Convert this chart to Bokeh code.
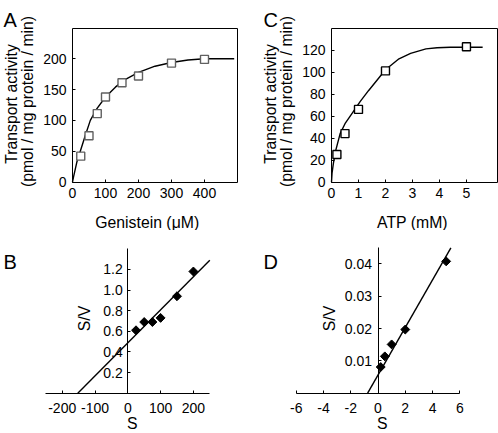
import numpy as np
from bokeh.plotting import figure
from bokeh.layouts import row, column
from bokeh.models import FixedTicker, Label, Range1d, LinearAxis
from bokeh.embed import file_html
from bokeh.resources import INLINE

FONT = "Liberation Sans"
TITLE_SIZE = "15.8px"

# ---------------- data ----------------
# Panel A: transport activity vs genistein (uM)
genistein = [25, 50, 75, 100, 150, 200, 300, 400]
genistein_activity = [42, 75, 111, 138, 161, 172, 193, 199]
genistein_curve_x = [0, 3, 13, 26, 39, 54, 74, 100, 130, 155, 200, 250, 300, 350, 400, 450, 490]
genistein_curve_y = [0, 8, 32, 54, 76, 100, 119, 138, 154, 165, 178, 188, 194, 198, 200, 200, 200]

# Panel C: transport activity vs ATP (mM)
atp = [0.2, 0.5, 1, 2, 5]
atp_activity = [25, 44, 66, 101, 123]
atp_curve_x = [0, 0.02, 0.07, 0.16, 0.32, 0.5, 0.75, 1.06, 1.37, 1.7, 2.0, 2.5, 2.93, 3.5, 3.91, 4.4, 5.0, 5.6]
atp_curve_y = [0, 8, 17, 29, 44, 53, 62, 73, 83, 93, 102, 112, 117, 121, 122, 122.5, 122.5, 122.5]

# Panel B: Hanes-Woolf plot, genistein
b_s = [25, 50, 75, 100, 150, 200]
b_sv = [0.61, 0.69, 0.69, 0.73, 0.94, 1.18]
b_fit_slope = 0.0032
b_fit_intercept = 0.488

# Panel D: Hanes-Woolf plot, ATP
d_s = [0.2, 0.5, 1, 2, 5]
d_sv = [0.0081, 0.0114, 0.0151, 0.0197, 0.0408]
d_fit_slope = 0.00737
d_fit_intercept = 0.0056

# axis extents and ticks
a_xlim, a_ylim = (0, 500), (0, 250)
c_xlim, c_ylim = (0, 6.15), (0, 140)
b_xlim, b_ylim = (-250, 250), (0, 1.4)
d_xlim, d_ylim = (-6, 6), (0, 0.045)

a_xticks = [0, 100, 200, 300, 400]
a_yticks = [0, 50, 100, 150, 200]
c_xticks = [0, 1, 2, 3, 4, 5]
c_yticks = [0, 20, 40, 60, 80, 100, 120]
b_xticks = [-200, -100, 0, 100, 200]
b_xlabels = ["-200", "-100", "0", "100", "200"]
b_yticks = [0.2, 0.4, 0.6, 0.8, 1.0, 1.2]
b_ylabels = ["0.2", "0.4", "0.6", "0.8", "1.0", "1.2"]
d_xticks = [-6, -4, -2, 0, 2, 4, 6]
d_xlabels = ["-6", "-4", "-2", "0", "2", "4", "6"]
d_yticks = [0.01, 0.02, 0.03, 0.04]
d_ylabels = ["0.01", "0.02", "0.03", "0.04"]


def make_fig(W, H, box, xlim, ylim):
    """Figure whose frame fills the canvas; `box` = (left, right, top, bottom)
    pixel position of the plotting area inside the canvas."""
    l, r, t, b = box
    sx = (r - l) / (xlim[1] - xlim[0])
    sy = (b - t) / (ylim[1] - ylim[0])
    xr = Range1d(xlim[0] - l / sx, xlim[1] + (W - r) / sx)
    yr = Range1d(ylim[0] - (H - b) / sy, ylim[1] + t / sy)
    p = figure(width=W, height=H, x_range=xr, y_range=yr,
               output_backend="svg", toolbar_location=None,
               min_border=0, min_border_left=0, min_border_right=0,
               min_border_top=0, min_border_bottom=0)
    p.title.visible = False
    p.grid.visible = False
    p.outline_line_color = None
    p.background_fill_color = "white"
    p.border_fill_color = "white"
    p.xaxis.fixed_location = ylim[0]
    p.yaxis.fixed_location = 0
    p.xaxis.bounds = xlim
    p.yaxis.bounds = ylim
    return p


def style_axis(ax, ticks, labels=None, standoff=5):
    ax.ticker = FixedTicker(ticks=ticks)
    if labels is not None:
        ax.major_label_overrides = {t: s for t, s in zip(ticks, labels)}
    ax.major_label_text_font = FONT
    ax.major_label_text_font_size = "14px"
    ax.major_label_text_color = "black"
    ax.axis_line_color = "black"
    ax.axis_line_width = 1
    ax.major_tick_line_color = "black"
    ax.major_tick_in = 3
    ax.major_tick_out = 0
    ax.minor_tick_line_color = None
    ax.major_label_standoff = standoff


def add_box(p, xlim, ylim):
    top = LinearAxis(fixed_location=ylim[1], bounds=xlim, ticker=FixedTicker(ticks=[]),
                     major_tick_in=0, major_tick_out=0, minor_tick_line_color=None,
                     axis_line_color="black")
    right = LinearAxis(fixed_location=xlim[1], bounds=ylim, ticker=FixedTicker(ticks=[]),
                       major_tick_in=0, major_tick_out=0, minor_tick_line_color=None,
                       axis_line_color="black")
    p.add_layout(top, "above")
    p.add_layout(right, "right")


def text(p, x, y, s, size=TITLE_SIZE, angle=0.0, align="center", baseline="middle"):
    # x, y: pixel position measured from the canvas' top-left corner
    p.add_layout(Label(x=x, y=p.height - y, x_units="screen", y_units="screen", text=s,
                       text_font=FONT, text_font_size=size, text_color="black",
                       angle=angle, text_align=align, text_baseline=baseline))


# ---------------- Panel A ----------------
pA = make_fig(250, 230, (72, 237, 27.5, 181.5), a_xlim, a_ylim)
style_axis(pA.xaxis[0], a_xticks, standoff=6)
style_axis(pA.yaxis[0], a_yticks, standoff=6)
add_box(pA, a_xlim, a_ylim)
pA.line(genistein_curve_x, genistein_curve_y, line_color="black", line_width=1.4)
pA.scatter(genistein, genistein_activity, marker="square", size=8,
           fill_color="white", line_color="#606060", line_width=1.4)
text(pA, 10.5, 103.5, "Transport activity", angle=np.pi / 2)
text(pA, 26.5, 101, "(pmol / mg protein / min)", angle=np.pi / 2)
text(pA, 146.7, 222, "Genistein (\u03bcM)", baseline="alphabetic")
text(pA, 3, 19.3, "A", size="20px", align="left", baseline="alphabetic")

# ---------------- Panel C ----------------
pC = make_fig(248, 230, (81, 247, 27.5, 181.5), c_xlim, c_ylim)
style_axis(pC.xaxis[0], c_xticks, standoff=6)
style_axis(pC.yaxis[0], c_yticks, standoff=6)
add_box(pC, c_xlim, c_ylim)
pC.line(atp_curve_x, atp_curve_y, line_color="black", line_width=1.4)
pC.scatter(atp, atp_activity, marker="square", size=8,
           fill_color="white", line_color="black", line_width=1.4)
text(pC, 19.5, 103.5, "Transport activity", angle=np.pi / 2)
text(pC, 36, 101, "(pmol / mg protein / min)", angle=np.pi / 2)
text(pC, 162, 222, "ATP (mM)", baseline="alphabetic")
text(pC, 13, 19.3, "C", size="20px", align="left", baseline="alphabetic")

# ---------------- Panel B ----------------
pB = make_fig(250, 203, (45.3, 209.3, 18.3, 162.7), b_xlim, b_ylim)
style_axis(pB.xaxis[0], b_xticks, b_xlabels, standoff=10)
style_axis(pB.yaxis[0], b_yticks, b_ylabels, standoff=5)
bx = np.array([-b_fit_intercept / b_fit_slope, b_xlim[1]])
pB.line(bx, b_fit_slope * bx + b_fit_intercept, line_color="black", line_width=1.4)
pB.scatter(b_s, b_sv, marker="square", angle=np.pi / 4, size=6.3,
           fill_color="black", line_color="black")
text(pB, 83.7, 88, "S/V", angle=np.pi / 2)
text(pB, 131.7, 193, "S", baseline="alphabetic")
text(pB, 3, 31.3, "B", size="20px", align="left", baseline="alphabetic")

# ---------------- Panel D ----------------
pD = make_fig(248, 203, (45.7, 209.3, 17.3, 162.7), d_xlim, d_ylim)
style_axis(pD.xaxis[0], d_xticks, d_xlabels, standoff=10)
style_axis(pD.yaxis[0], d_yticks, d_ylabels, standoff=6)
dx = np.array([-d_fit_intercept / d_fit_slope, (d_ylim[1] - d_fit_intercept) / d_fit_slope])
pD.line(dx, d_fit_slope * dx + d_fit_intercept, line_color="black", line_width=1.4)
pD.scatter(d_s, d_sv, marker="square", angle=np.pi / 4, size=6.3,
           fill_color="black", line_color="black")
text(pD, 79, 88, "S/V", angle=np.pi / 2)
text(pD, 131.7, 193, "S", baseline="alphabetic")
text(pD, 13, 31.3, "D", size="20px", align="left", baseline="alphabetic")

layout = column(row(pA, pC), row(pB, pD))
open("out.html", "w").write(file_html(layout, INLINE))
